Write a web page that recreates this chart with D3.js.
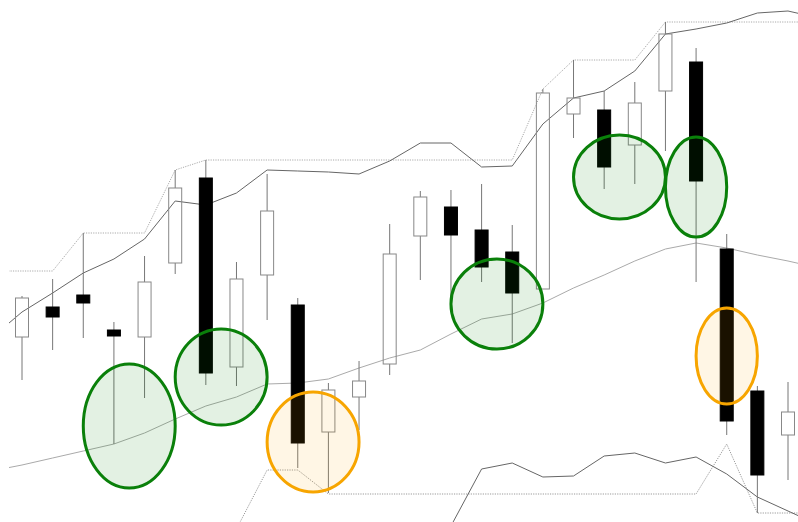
<!DOCTYPE html>
<html>
<head>
<meta charset="utf-8">
<script src="https://cdn.jsdelivr.net/npm/d3@7"></script>
<style>
  body { margin: 0; background: #fff; }
  svg { display: block; }
</style>
</head>
<body>
<div id="chart"></div>
<script>
var width = 798, height = 522;

/* candles, index 1..26 */
var opens  = [37.0, 43.0, 45.4, 38.4, 37.0, 51.8, 68.8, 31.0, 49.4, 43.4, 18.0, 25.0, 31.6, 57.2, 63.0, 58.4, 54.0, 46.6, 81.6, 82.4, 75.4, 86.2, 92.0, 54.6, 26.2, 17.4];
var highs  = [45.2, 48.6, 57.8, 40.0, 53.2, 70.4, 72.4, 52.0, 69.6, 44.8, 27.8, 32.2, 59.6, 66.2, 66.4, 67.6, 59.4, 86.6, 92.4, 86.2, 88.0, 100.0, 94.8, 57.6, 27.2, 28.0];
var lows   = [28.4, 34.4, 36.8, 15.6, 24.8, 49.6, 27.4, 27.2, 40.4, 10.8, 5.8, 18.4, 29.4, 48.4, 45.2, 48.0, 35.8, 46.6, 76.8, 66.6, 67.6, 74.2, 48.0, 17.4, 1.8, 8.4];
var closes = [44.8, 41.0, 43.8, 37.2, 48.0, 66.8, 29.8, 48.6, 62.2, 15.8, 26.4, 28.2, 53.6, 65.0, 57.4, 51.0, 45.8, 85.8, 84.8, 71.0, 83.8, 97.6, 68.2, 20.2, 9.4, 22.0];

/* indicator lines, index 0..27 (ends run past the plot edges) */
var upperBand = [50.2, 50.2, 50.2, 57.8, 57.8, 57.8, 70.4, 72.4, 72.4, 72.4, 72.4, 72.4, 72.4, 72.4, 72.4, 72.4, 72.4, 72.4, 86.6, 92.4, 92.4, 92.4, 100.0, 100.0, 100.0, 100.0, 100.0, 100.0];
var fastLine  = [36.8, 42.0, 45.8, 49.8, 52.6, 56.6, 64.2, 63.4, 65.8, 70.4, 70.2, 70.0, 69.6, 72.2, 75.8, 75.8, 71.0, 71.2, 79.6, 84.8, 86.2, 90.2, 97.6, 98.6, 99.8, 101.8, 102.2, 100.8];
var slowLine  = [10.2, 11.4, 12.8, 14.2, 15.6, 17.8, 20.6, 23.2, 25.0, 27.6, 27.8, 28.6, 30.8, 32.8, 34.4, 37.6, 40.6, 41.6, 43.8, 46.8, 49.4, 52.2, 54.6, 55.8, 54.8, 53.4, 52.2, 50.8];
var lowerBand = [null, null, null, null, null, null, null, null, -1.4, 10.4, 10.4, 5.6, 5.6, 5.6, 5.6, 5.6, 5.6, 5.6, 5.6, 5.6, 5.6, 5.6, 5.6, 5.6, 15.6, 1.8, 1.8, 1.8];
var lowerLine = [null, null, null, null, null, null, null, null, null, null, null, null, null, null, null, -0.8, 10.6, 11.8, 9.0, 9.2, 13.2, 13.8, 11.8, 13.0, 9.6, 5.0, 2.2, -0.6];

/* highlighted zones: first candle, last candle, top price, bottom price */
var zoneFrom   = [4, 7, 10, 16, 20, 23, 24];
var zoneTo     = [5, 8, 11, 17, 21, 23, 24];
var zoneTop    = [31.6, 38.6, 26.0, 52.6, 77.4, 77.0, 42.8];
var zoneBottom = [6.8, 19.4, 6.0, 34.6, 60.6, 57.0, 23.6];
var zoneKind   = ['bull', 'bull', 'bear', 'bull', 'bull', 'bull', 'bear'];

var candles = opens.map(function(o, i) {
  return { i: i + 1, open: o, high: highs[i], low: lows[i], close: closes[i] };
});

var x = d3.scaleLinear().domain([0, 27]).range([22 - 30.64, 22 + 26 * 30.64]);
var y = d3.scaleLinear().domain([0, 104.4]).range([height, 0]);
var bodyW = 13;

var svg = d3.select('#chart').append('svg')
  .attr('width', width)
  .attr('height', height);

svg.append('defs').append('clipPath').attr('id', 'plot')
  .append('rect').attr('x', 9).attr('y', 0).attr('width', width - 9).attr('height', height);

var plot = svg.append('g').attr('clip-path', 'url(#plot)');

function drawLine(values, color, dash) {
  var line = d3.line()
    .defined(function(d) { return d != null; })
    .x(function(d, i) { return x(i); })
    .y(function(d) { return y(d); });
  plot.append('path')
    .datum(values)
    .attr('d', line)
    .attr('fill', 'none')
    .attr('stroke', color)
    .attr('stroke-width', 1)
    .attr('stroke-dasharray', dash || null);
}

drawLine(upperBand, '#aaa', '1.2,1.2');
drawLine(lowerBand, '#999', '1.2,1.2');
drawLine(slowLine, '#aaa');
drawLine(fastLine, '#666');
drawLine(lowerLine, '#666');

var c = plot.selectAll('.candle').data(candles).enter()
  .append('g').attr('class', 'candle');

c.append('line')
  .attr('x1', function(d) { return x(d.i); })
  .attr('x2', function(d) { return x(d.i); })
  .attr('y1', function(d) { return y(d.high); })
  .attr('y2', function(d) { return y(Math.max(d.open, d.close)); })
  .attr('stroke', '#777');

c.append('line')
  .attr('x1', function(d) { return x(d.i); })
  .attr('x2', function(d) { return x(d.i); })
  .attr('y1', function(d) { return y(Math.min(d.open, d.close)); })
  .attr('y2', function(d) { return y(d.low); })
  .attr('stroke', '#777');

c.append('rect')
  .attr('x', function(d) { return x(d.i) - bodyW / 2; })
  .attr('y', function(d) { return y(Math.max(d.open, d.close)); })
  .attr('width', bodyW)
  .attr('height', function(d) { return Math.abs(y(d.open) - y(d.close)); })
  .attr('fill', function(d) { return d.close > d.open ? 'none' : '#000'; })
  .attr('stroke', function(d) { return d.close > d.open ? '#888' : '#000'; })
  .attr('stroke-width', 1);

var step = x(1) - x(0);
var zones = zoneFrom.map(function(f, i) {
  return { from: f, to: zoneTo[i], top: zoneTop[i], bottom: zoneBottom[i], kind: zoneKind[i] };
});

plot.selectAll('.zone').data(zones).enter()
  .append('ellipse')
  .attr('class', 'zone')
  .attr('cx', function(d) { return x((d.from + d.to) / 2); })
  .attr('cy', function(d) { return y((d.top + d.bottom) / 2); })
  .attr('rx', function(d) { return (d.to - d.from + 2) * step / 2; })
  .attr('ry', function(d) { return (y(d.bottom) - y(d.top)) / 2; })
  .attr('fill', function(d) { return d.kind == 'bull' ? 'rgba(0,128,0,0.11)' : 'rgba(255,165,0,0.1)'; })
  .attr('stroke', function(d) { return d.kind == 'bull' ? '#0a800a' : '#f7a500'; })
  .attr('stroke-width', 3);
</script>
</body>
</html>
